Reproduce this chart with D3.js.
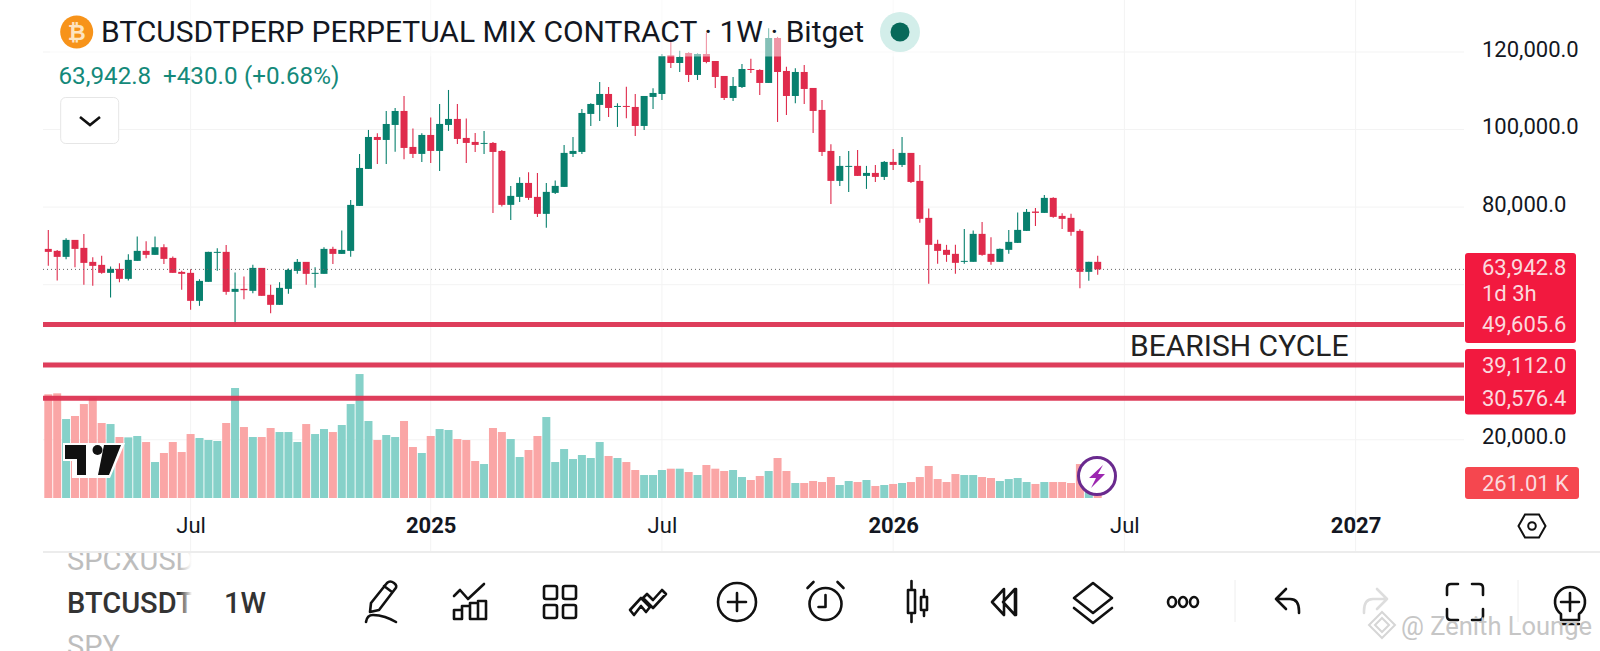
<!DOCTYPE html>
<html><head><meta charset="utf-8">
<script src="https://cdn.jsdelivr.net/npm/d3@7/dist/d3.min.js"></script>
<style>html,body{margin:0;padding:0;background:#fff;overflow:hidden}svg{display:block}text{font-family:Roboto,sans-serif}</style>
</head><body><svg id="c" width="1600" height="651"></svg>
<script>
// weekly candles, thousands of USDT
const opens=[69.23,68.72,67.17,71.55,69.49,65.88,65.11,63.05,64.08,61.5,
66.14,68.72,67.69,69.66,66.91,63.3,63.05,55.83,60.73,68.2,
68.46,58.15,58.92,58.41,64.33,57.38,54.8,58.92,63.56,65.88,
62.79,62.79,69.23,67.94,68.72,80.31,89.85,98.09,97.32,101.19,
104.8,95.52,93.72,98.61,94.49,101.19,102.74,97.84,96.81,96.3,
96.55,94.49,80.58,82.64,86.24,82.64,78.26,83.67,85.21,93.72,
94.23,104.03,106.35,109.18,105.83,106.09,105.83,100.93,108.41,109.18,
119.14,117.17,119.75,114.08,119.49,117.68,113.82,108.15,110.98,115.62,
115.37,112.02,123.61,115.11,108.66,114.85,110.73,105.06,94.49,86.76,
90.37,90.63,88.05,88.82,87.79,91.66,90.88,93.98,86.76,77.23,
70.53,68.98,67.95,65.89,65.89,73.1,67.95,65.89,68.98,70.78,
73.87,78.86,78.51,82.38,77.74,77.23,73.87,63.31,65.89];
const closes=[68.46,67.17,71.55,69.23,65.62,64.85,63.05,64.08,61.5,66.4,
68.72,67.69,69.66,66.65,63.05,62.79,55.83,60.98,68.46,68.46,
58.15,58.92,58.58,64.33,57.12,54.8,59.18,63.82,65.88,62.79,
63.05,69.23,67.94,68.97,80.57,90.1,98.09,97.32,101.44,104.79,
95.26,93.72,98.61,94.49,101.45,102.74,97.58,96.55,96.04,96.55,
94.23,80.58,82.9,86.24,82.38,78.26,83.93,85.47,93.98,94.49,
104.28,106.6,109.18,105.57,106.09,105.83,100.93,108.66,109.44,118.97,
117.17,118.72,114.08,119.49,117.43,113.56,108.15,111.24,115.62,115.37,
112.02,123.61,114.85,108.66,114.85,110.47,104.8,94.23,86.76,90.63,
90.63,88.05,88.82,87.79,91.66,90.88,93.98,86.5,76.97,70.27,
68.72,67.69,65.63,66.14,73.1,67.69,65.89,69.24,71.04,74.13,
78.77,78.51,82.38,77.48,76.97,73.62,63.31,65.89,63.94];
const highs=[74.1,68.97,71.98,71.55,73.1,67.08,67.43,64.68,65.54,67.86,
72.41,71.21,72.41,70.43,67.25,63.56,63.99,61.41,68.46,69.4,
70.26,63.13,62.1,65.11,64.33,59.95,60.64,64.16,66.65,65.88,
64.51,69.66,69.75,73.96,81.86,93.71,99.9,99.04,104.79,105.57,
108.66,100.25,99.04,103.08,106.6,110.21,106.6,102.82,99.13,99.65,
96.81,94.75,85.47,87.7,88.99,88.82,86.24,86.85,96.04,98.1,
105.3,106.78,112.27,110.98,106.78,111.07,109.18,108.66,110.64,119.49,
122.92,120.35,119.92,119.66,124.99,117.68,113.82,113.56,116.91,118.29,
115.54,126.1,123.9,116.22,115.79,116.65,110.73,107.63,96.21,93.2,
94.49,94.75,90.63,90.88,91.91,95.0,98.1,93.98,90.88,79.63,
71.56,70.27,70.27,74.39,73.96,76.19,72.24,69.32,74.13,78.6,
79.54,79.8,83.15,82.55,78.43,78.26,74.3,65.89,67.43];
const lows=[64.85,61.07,66.57,64.51,59.95,59.7,62.79,56.69,60.64,61.07,
66.14,66.82,67.69,65.36,63.05,58.67,53.51,54.54,60.73,63.56,
57.38,49.65,56.26,57.81,57.12,52.65,54.8,57.63,62.79,59.95,
59.18,62.79,65.36,67.94,67.17,80.31,89.85,91.13,91.13,94.31,
92.34,92.69,91.66,91.4,89.34,99.65,96.3,91.4,94.23,93.72,
78.51,80.15,76.71,81.35,81.86,77.48,74.65,83.41,85.21,92.94,
93.72,100.93,102.22,103.25,100.68,102.91,98.36,99.9,105.3,107.63,
115.88,114.85,112.27,112.79,117.08,110.73,107.63,107.38,110.73,114.6,
108.92,112.02,101.96,103.77,106.78,106.6,99.13,93.2,80.83,85.47,
83.93,88.05,84.7,86.5,87.02,89.6,90.37,86.24,75.94,60.22,
65.37,65.89,62.79,65.37,65.89,67.43,65.11,65.89,67.95,70.78,
73.87,75.16,78.51,77.23,74.39,72.59,59.1,60.99,62.54];
// weekly volume, thousands
const volumes=[1804,1821,1374,1427,1635,1746,1305,1287,1061,1055,
1079,974,626,783,974,800,1113,1044,1009,992,
1305,1914,1235,1061,1061,1218,1148,1148,974,1287,
1113,1200,1148,1270,1635,2157,1340,1009,1096,1061,
1340,887,783,1079,1200,1183,1026,1009,644,591,
1218,1148,1026,713,835,1079,1409,626,852,678,
748,696,974,731,696,626,487,400,400,487,
510,510,452,400,574,510,470,487,365,313,
383,470,696,470,261,261,296,278,365,226,
296,278,313,209,226,244,261,278,365,557,
330,278,417,400,400,365,348,296,330,348,
278,244,278,278,278,261,591,313,261];
const priceTicks=[120,100,80,20];
const gridPrices=[120,100,80,60,40,20];
const timeTickIndex=[16,43,69,95,121,147];
const timeTickLabels=["Jul","2025","Jul","2026","Jul","2027"];
const levels=[49.6056,39.112,30.5764];
const lastPrice=63.9428, lastVolume=261.01;

const GREEN="#08806e",RED="#df2b4c",VG="#86d1c9",VR="#faa6a6";
const svg=d3.select("#c");
const x=d3.scaleLinear().domain([0,118]).range([48.3,1097.7]);
const y=d3.scaleLinear().domain([20,120]).range([439.8,52]);
const v=d3.scaleLinear().domain([0,lastVolume]).range([498,483]);
const isUp=i=>closes[i]>=opens[i];

// grid
const grid=svg.append("g").attr("stroke","#f3f3f3").attr("stroke-width",1);
grid.selectAll(".h").data(gridPrices).join("line").attr("x1",43).attr("x2",1464).attr("y1",d=>y(d)).attr("y2",d=>y(d));
grid.selectAll(".v").data(timeTickIndex.filter(d=>x(d)<1464)).join("line").attr("x1",d=>x(d)).attr("x2",d=>x(d)).attr("y1",0).attr("y2",552);

// volume
svg.append("g").selectAll("rect").data(volumes).join("rect")
 .attr("x",(d,i)=>x(i)-4).attr("width",8).attr("y",d=>v(d)).attr("height",d=>498-v(d))
 .attr("fill",(d,i)=>isUp(i)?VG:VR);

// candles
const idx=d3.range(opens.length);
const cg=svg.append("g");
cg.selectAll("line").data(idx).join("line")
 .attr("x1",i=>x(i)).attr("x2",i=>x(i)).attr("y1",i=>y(highs[i])).attr("y2",i=>y(lows[i]))
 .attr("stroke",i=>isUp(i)?GREEN:RED).attr("stroke-width",1.1);
cg.selectAll("rect").data(idx).join("rect")
 .attr("x",i=>x(i)-3.5).attr("width",7)
 .attr("y",i=>y(Math.max(opens[i],closes[i])))
 .attr("height",i=>Math.max(1,Math.abs(y(opens[i])-y(closes[i]))))
 .attr("fill",i=>isUp(i)?GREEN:RED);

// last price line and drawn levels
svg.append("line").attr("x1",43).attr("x2",1464).attr("y1",y(lastPrice)).attr("y2",y(lastPrice))
 .attr("stroke","#666").attr("stroke-width",1).attr("stroke-dasharray","1 3");
svg.append("g").selectAll("line").data(levels).join("line")
 .attr("x1",43).attr("x2",1464).attr("y1",d=>y(d)-0.6).attr("y2",d=>y(d)-0.6)
 .attr("stroke","#dc3352").attr("stroke-opacity",.95).attr("stroke-width",5);
svg.append("text").attr("x",1130).attr("y",356).attr("font-size",30).attr("fill","#222").text("BEARISH CYCLE");

// legend wash
svg.append("rect").attr("x",50).attr("y",0).attr("width",880).attr("height",56.5).attr("fill","#fff").attr("fill-opacity",.5);

// header
svg.append("circle").attr("cx",76.7).attr("cy",32).attr("r",16.5).attr("fill","#f7931a");
svg.append("text").attr("x",76.7).attr("y",40).attr("text-anchor","middle").attr("font-size",22).attr("font-weight",700).attr("fill","#fde4c0").text("₿");
svg.append("text").attr("x",101).attr("y",42).attr("font-size",30).attr("fill","#131722").text("BTCUSDTPERP PERPETUAL MIX CONTRACT · 1W · Bitget");
svg.append("circle").attr("cx",900).attr("cy",32).attr("r",20).attr("fill","#d3eeea");
svg.append("circle").attr("cx",900).attr("cy",32).attr("r",9.5).attr("fill","#07695a");
const quote=svg.append("g").attr("fill","#14897a").attr("font-size",24.2);
quote.append("text").attr("x",58.5).attr("y",83.5).text("63,942.8");
quote.append("text").attr("x",163).attr("y",83.5).text("+430.0");
quote.append("text").attr("x",244).attr("y",83.5).text("(+0.68%)");
svg.append("rect").attr("x",60.7).attr("y",97.5).attr("width",58).attr("height",46).attr("rx",5).attr("fill","#fff").attr("stroke","#e6e6e6");
svg.append("path").attr("d","M80 117l10 8 10-8").attr("fill","none").attr("stroke","#111").attr("stroke-width",2.6);

// logo
const logo=svg.append("g");
logo.append("path").attr("d","M63 443H125L110 478H72V461H63Z").attr("fill","#fff");
logo.append("path").attr("d","M65 445H86V475H77V459H65Z").attr("fill","#111");
logo.append("circle").attr("cx",97.5).attr("cy",450).attr("r",5).attr("fill","#111");
logo.append("path").attr("d","M104 445H121L109 475H98Z").attr("fill","#111");

// volume icon
svg.append("circle").attr("cx",1097).attr("cy",476).attr("r",18.5).attr("fill","#fff").attr("stroke","#6a2a8e").attr("stroke-width",3);
svg.append("path").attr("d","M1103 465L1089 478H1096L1091 488L1105 474H1098Z").attr("fill","#9c27b0");

// price axis
const ya=svg.append("g").attr("transform","translate(1482,0)").call(d3.axisRight(y).tickValues(priceTicks).tickSize(0).tickPadding(0).tickFormat(d=>d3.format(",.1f")(d*1000)));
ya.select(".domain").remove();
ya.selectAll("text").attr("font-size",22).attr("fill","#131722").attr("font-family","Roboto").attr("dy","0.32em").attr("transform","translate(0,-3)");

// label boxes
const boxes=svg.append("g").attr("fill","#f2193f");
boxes.append("rect").attr("x",1465).attr("y",253).attr("width",111).attr("height",90).attr("rx",3);
boxes.append("rect").attr("x",1465).attr("y",349).attr("width",111).attr("height",65.5).attr("rx",3);
svg.append("rect").attr("x",1465).attr("y",467).attr("width",114).attr("height",32).attr("rx",3).attr("fill","#f5474f");
const fmt=d3.format(",.1f");
const lab=svg.append("g").attr("fill","#fbd9de").attr("font-size",22);
lab.append("text").attr("x",1482).attr("y",y(lastPrice)+6).text(fmt(lastPrice*1000));
lab.append("text").attr("x",1482).attr("y",301).text("1d 3h");
lab.selectAll(".l").data(levels).join("text").attr("x",1482).attr("y",d=>y(d)+7).text(d=>fmt(d*1000));
lab.append("text").attr("x",1482).attr("y",491).text(lastVolume.toFixed(2)+" K");

// time axis
const xa=svg.append("g").attr("transform","translate(0,525)").call(d3.axisBottom(x).tickValues(timeTickIndex).tickSize(0).tickPadding(0).tickFormat((d,i)=>timeTickLabels[i]));
xa.select(".domain").remove();
xa.selectAll("text").attr("font-size",22).attr("font-family","Roboto").attr("fill","#131722").attr("dy","0.35em").attr("y",0)
 .attr("font-weight",(d,i)=>i%2?700:400);
svg.append("path").attr("d","M1518.5 526l6.5-11.5h14l6.5 11.5-6.5 11.5h-14Z").attr("fill","none").attr("stroke","#111").attr("stroke-width",2);
svg.append("circle").attr("cx",1532).attr("cy",526).attr("r",3.8).attr("fill","none").attr("stroke","#111").attr("stroke-width",2);

// bottom bar
svg.append("rect").attr("x",43).attr("y",551).attr("width",1557).attr("height",2).attr("fill","#ececec");
const defs=svg.append("defs");
const g=defs.append("linearGradient").attr("id","fd").attr("gradientUnits","userSpaceOnUse").attr("x1",150).attr("x2",192).attr("y1",0).attr("y2",0);
g.append("stop").attr("offset",.7).attr("stop-color","#333");g.append("stop").attr("offset",1).attr("stop-color","#fff");
const g2=defs.append("linearGradient").attr("id","fd2").attr("gradientUnits","userSpaceOnUse").attr("x1",150).attr("x2",192).attr("y1",0).attr("y2",0);
g2.append("stop").attr("offset",.7).attr("stop-color","#bdbdbd");g2.append("stop").attr("offset",1).attr("stop-color","#fff");
defs.append("clipPath").attr("id","pick").append("rect").attr("x",40).attr("y",553).attr("width",152).attr("height",98);
const pick=svg.append("g").attr("clip-path","url(#pick)").attr("font-size",29);
pick.append("text").attr("x",67).attr("y",570).attr("fill","url(#fd2)").text("SPCXUSD");
pick.append("text").attr("x",67).attr("y",613).attr("fill","url(#fd)").attr("font-weight",500).text("BTCUSDT");
pick.append("text").attr("x",67).attr("y",656).attr("fill","url(#fd2)").text("SPY");
svg.append("text").attr("x",224).attr("y",613).attr("font-size",29).attr("font-weight",500).attr("fill","#333").text("1W");

const ic=svg.append("g").attr("fill","none").attr("stroke","#111").attr("stroke-width",2.6).attr("stroke-linecap","round").attr("stroke-linejoin","round");
const icon=(cx,d,c)=>ic.append("path").attr("transform",`translate(${cx},602)`).attr("d",d).attr("stroke",c||"#111");
icon(382,"M-12 10L-11 1L5-19Q8-22 12-19T13-13L-3 8ZM-12 10L-3 8M2-16L10-10M-16 20Q-15 13-9 13T3 15T14 20");
icon(470,"M-16 8V17H-8V8ZM-8 17V4H0V17M0 17V1H8V17ZM8 17H16V-1H8M-16-6L-10-12L-2-3L14-18");
icon(560,"M-14-16h9a2 2 0 0 1 2 2v9a2 2 0 0 1-2 2h-9a2 2 0 0 1-2-2v-9a2 2 0 0 1 2-2ZM5-16h9a2 2 0 0 1 2 2v9a2 2 0 0 1-2 2h-9a2 2 0 0 1-2-2v-9a2 2 0 0 1 2-2ZM-14 3h9a2 2 0 0 1 2 2v9a2 2 0 0 1-2 2h-9a2 2 0 0 1-2-2v-9a2 2 0 0 1 2-2ZM5 3h9a2 2 0 0 1 2 2v9a2 2 0 0 1-2 2h-9a2 2 0 0 1-2-2v-9a2 2 0 0 1 2-2Z");
icon(648,"M-18 8L-7-4L2 5L-2 10L-7 4L-14 13ZM-1-8L5-2L14-12L18-8L5 6L-5-4Z");
icon(737,"M-19 0A19 19 0 1 1 19 0A19 19 0 1 1-19 0M-9 0H9M0-9V9");
icon(825.5,"M-16 2A16 16 0 1 1 16 2A16 16 0 1 1-16 2M0-7V5H-7M-18-14L-12-20M18-14L12-20");
icon(916,"M-8-12H-1V11H-8ZM-4.5-21V-12M-4.5 11V20M5-5H11V8H5ZM8-12V-5M8 8V14");
icon(1004,"M0-13L-12 0L0 13ZM11-13L-1 0L11 13ZM12-13V13");
icon(1093,"M0-19L19-4L0 11L-19-4ZM-19 6L0 21L19 6");
icon(1183,"M-15 0a4 5 0 1 1 8 0a4 5 0 1 1-8 0M-4 0a4 5 0 1 1 8 0a4 5 0 1 1-8 0M7 0a4 5 0 1 1 8 0a4 5 0 1 1-8 0");
icon(1287,"M-11-3L-1-13M-11-3L-1 7M-11-3H3Q12-3 12 9V11");
icon(1376,"M11-3L1-13M11-3L1 7M11-3H-3Q-12-3-12 9V11","#dddddd");
icon(1465,"M-7-18H-14Q-18-18-18-14V-7M7-18H14Q18-18 18-14V-7M-18 7V14Q-18 18-14 18H-7M18 7V14Q18 18 14 18H7");
icon(1570,"M-9 12A15 15 0 1 1 9 12V18H-9ZM-9 0H9M0-9V9M-9 22H9");
svg.append("g").attr("stroke","#eeeeee").selectAll("line").data([1235,1518]).join("line").attr("x1",d=>d).attr("x2",d=>d).attr("y1",580).attr("y2",622);

// watermark
const wm=svg.append("g").attr("fill","#c6c6c6");
wm.append("text").attr("x",1401).attr("y",635).attr("font-size",25.5).text("@ Zenith Lounge");
wm.append("path").attr("d","M1382 612l13 13-13 13-13-13ZM1382 618l7 7-7 7-7-7Z").attr("fill","none").attr("stroke","#d6d6d6").attr("stroke-width",2);
</script></body></html>
